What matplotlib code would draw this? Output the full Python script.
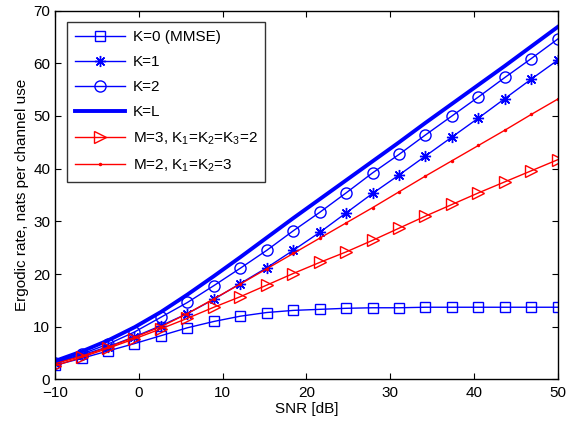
import numpy as np
import matplotlib
matplotlib.use("Agg")
import matplotlib.pyplot as plt

plt.rcParams['font.family'] = ['Liberation Sans', 'DejaVu Sans']
plt.rcParams['mathtext.default'] = 'regular'

snr_db = np.linspace(-10, 50, 20)

rate_k0 = [2.7, 4.0, 5.4, 6.8, 8.3, 9.8, 11.0, 12.0, 12.7, 13.1,
           13.3, 13.5, 13.6, 13.6, 13.7, 13.7, 13.7, 13.7, 13.7, 13.7]
rate_k1 = [3.1, 4.6, 6.2, 8.1, 10.2, 12.5, 15.2, 18.2, 21.2, 24.5,
           27.9, 31.6, 35.3, 38.8, 42.4, 46.0, 49.6, 53.3, 57.0, 60.6]
rate_k2 = [3.2, 4.8, 6.7, 9.0, 11.8, 14.6, 17.8, 21.1, 24.5, 28.2,
           31.7, 35.4, 39.2, 42.7, 46.4, 50.0, 53.6, 57.3, 60.9, 64.6]
rate_kl = [3.5, 5.3, 7.4, 9.9, 12.8, 16.1, 19.6, 23.2, 26.9, 30.6,
           34.2, 37.8, 41.4, 45.0, 48.7, 52.3, 55.9, 59.5, 63.2, 66.9]
rate_m3 = [2.6, 4.2, 5.9, 7.7, 9.6, 11.6, 13.7, 15.7, 17.9, 20.1,
           22.2, 24.2, 26.4, 28.7, 31.0, 33.2, 35.4, 37.5, 39.6, 41.7]
rate_m2 = [3.0, 4.4, 6.1, 8.0, 10.0, 12.5, 15.3, 18.1, 21.0, 23.9,
           26.8, 29.7, 32.6, 35.6, 38.6, 41.5, 44.4, 47.3, 50.3, 53.2]

labels = ['K=0 (MMSE)', 'K=1', 'K=2', 'K=L',
          r'M=3, K$_1$=K$_2$=K$_3$=2', r'M=2, K$_1$=K$_2$=3']

fig = plt.figure(figsize=(5.68, 4.23), dpi=100)
ax = fig.add_axes([0.097, 0.103, 0.885, 0.872])

blue = '#0000ff'
red = '#ff0000'
ax.plot(snr_db, rate_k0, color=blue, lw=1.0, marker='s', ms=7, mfc='none', mew=1.0, label=labels[0])
ax.plot(snr_db, rate_k1, color=blue, lw=1.0, marker=(8, 2, 0), ms=8, mew=1.0, label=labels[1])
ax.plot(snr_db, rate_k2, color=blue, lw=1.0, marker='o', ms=8, mfc='none', mew=1.0, label=labels[2])
ax.plot(snr_db, rate_kl, color=blue, lw=2.8, label=labels[3])
ax.plot(snr_db, rate_m3, color=red, lw=1.0, marker='>', ms=9, mfc='none', mew=1.0, label=labels[4])
ax.plot(snr_db, rate_m2, color=red, lw=1.0, marker='.', ms=3, label=labels[5])

ax.set_xlim(-10, 50)
ax.set_ylim(0, 70)
ax.set_xticks(np.arange(-10, 51, 10))
ax.set_yticks(np.arange(0, 71, 10))
ax.tick_params(direction='in', top=True, right=True, labelsize=11, length=4)
ax.tick_params(axis='x', pad=5)
ax.set_xlabel('SNR [dB]', fontsize=11, labelpad=1)
ax.set_ylabel('Ergodic rate, nats per channel use', fontsize=11, labelpad=3)
for s in ax.spines.values():
    s.set_linewidth(1.0)

leg = ax.legend(loc='upper left', fontsize=11, frameon=True, fancybox=False,
                edgecolor='black', handlelength=3.3, borderaxespad=0.78,
                labelspacing=0.72, handletextpad=0.5, borderpad=0.5)
leg.get_frame().set_linewidth(1.0)

fig.savefig('out.png', dpi=100)
